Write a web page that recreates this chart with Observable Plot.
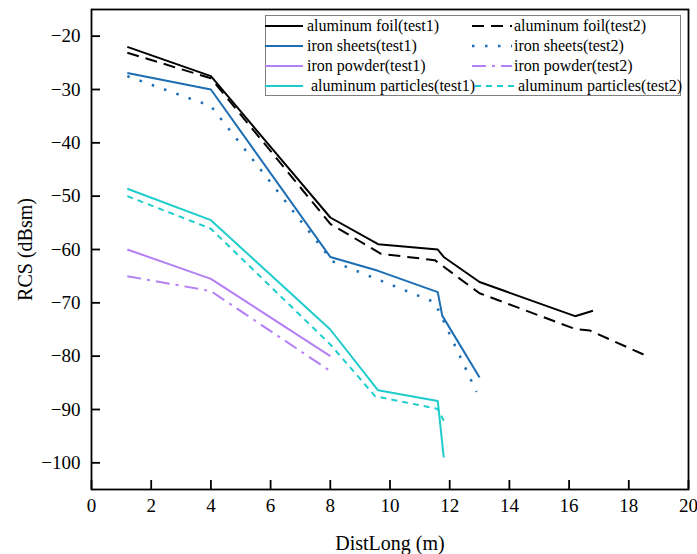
<!DOCTYPE html>
<html><head><meta charset="utf-8">
<script src="https://cdn.jsdelivr.net/npm/d3@7"></script>
<script src="https://cdn.jsdelivr.net/npm/@observablehq/plot@0.6"></script>
<style>
body{margin:0;background:#fff;}
#wrap{position:relative;width:697px;height:554px;font-family:"Liberation Serif","Times New Roman",serif;}
#legend{position:absolute;left:265px;top:15px;width:416px;height:81px;border:1px solid #808080;background:#fff;box-sizing:border-box;}
.item{position:absolute;font-size:16px;line-height:20px;height:20px;white-space:nowrap;color:#000;}
.item svg{position:absolute;top:0;}
.item span{position:absolute;top:0;}
</style></head><body><div id="wrap"></div>
<script>
// ---- data ----
const seriesNames = ["aluminum foil(test1)", "aluminum foil(test2)", "iron sheets(test1)", "iron sheets(test2)",
  "iron powder(test1)", "iron powder(test2)", "aluminum particles(test1)", "aluminum particles(test2)"];

const alFoil1X = [1.2, 4.0, 8.0, 9.6, 11.6, 11.8, 13.0, 16.2, 16.8];
const alFoil1Y = [-22.0, -27.5, -54.0, -59.0, -60.0, -61.4, -66.1, -72.5, -71.5];
const alFoil2X = [1.2, 4.0, 8.0, 9.7, 11.5, 13.0, 16.2, 16.7, 18.5];
const alFoil2Y = [-23.1, -27.9, -55.2, -60.8, -62.0, -68.2, -74.9, -75.2, -79.7];
const ironSheets1X = [1.2, 4.0, 8.0, 9.6, 11.6, 11.75, 13.0];
const ironSheets1Y = [-26.9, -30.0, -61.4, -64.0, -68.0, -72.4, -84.0];
const ironSheets2X = [1.2, 4.0, 8.07, 11.5, 12.9];
const ironSheets2Y = [-27.5, -33.1, -62.2, -69.9, -86.7];
const ironPowder1X = [1.2, 4.0, 8.0];
const ironPowder1Y = [-60.0, -65.5, -80.0];
const ironPowder2X = [1.2, 4.0, 8.0];
const ironPowder2Y = [-65.0, -67.8, -82.8];
const alParticles1X = [1.2, 4.0, 8.0, 9.6, 11.6, 11.8];
const alParticles1Y = [-48.6, -54.5, -75.0, -86.4, -88.4, -99.0];
const alParticles2X = [1.2, 4.0, 8.0, 9.5, 11.6, 11.8];
const alParticles2Y = [-50.0, -56.1, -77.8, -87.5, -89.9, -92.1];

const xTicks = [0, 2, 4, 6, 8, 10, 12, 14, 16, 18, 20];
const yTicks = [-20, -30, -40, -50, -60, -70, -80, -90, -100];
const xLabel = "DistLong (m)";
const yLabel = "RCS (dBsm)";

// ---- styles ----
const BLUE = "#1c6db3", PURPLE = "#b57ff5", CYAN = "#1fcccc";
const styles = [
  {stroke: "#000", dash: null, w: 2},
  {stroke: "#000", dash: "12,7", w: 2},
  {stroke: BLUE, dash: null, w: 2},
  {stroke: BLUE, dash: "2.5,10.5", w: 2.5},
  {stroke: PURPLE, dash: null, w: 2},
  {stroke: PURPLE, dash: "14,6,3,6", w: 2},
  {stroke: CYAN, dash: null, w: 2},
  {stroke: CYAN, dash: "6,5", w: 2}
];
const xs = [alFoil1X, alFoil2X, ironSheets1X, ironSheets2X, ironPowder1X, ironPowder2X, alParticles1X, alParticles2X];
const ys = [alFoil1Y, alFoil2Y, ironSheets1Y, ironSheets2Y, ironPowder1Y, ironPowder2Y, alParticles1Y, alParticles2Y];

const fmt = d => d < 0 ? "\u2212" + Math.abs(d) : String(d);

const lineMarks = xs.map((X, k) => Plot.line(X.map((x, i) => ({x, y: ys[k][i]})), {
  x: "x", y: "y", stroke: styles[k].stroke, strokeWidth: styles[k].w,
  strokeDasharray: styles[k].dash, strokeLinejoin: "miter", strokeLinecap: "butt"
}));

const chart = Plot.plot({
  width: 697, height: 554,
  marginLeft: 91, marginRight: 9, marginTop: 9, marginBottom: 65,
  x: {domain: [0, 20]},
  y: {domain: [-105, -15]},
  style: {fontFamily: "'Liberation Serif','Times New Roman',serif", fontSize: "19px", color: "#000", background: "#fff", overflow: "visible"},
  marks: [
    Plot.axisX({ticks: xTicks, tickSize: 0, tickPadding: 9, tickFormat: fmt, label: null, fontSize: 19}),
    Plot.axisX({ticks: xTicks, tickSize: -9, text: null, label: null, strokeWidth: 1.8}),
    Plot.axisY({ticks: yTicks, tickSize: 0, tickPadding: 11, tickFormat: fmt, label: null, fontSize: 19}),
    Plot.axisY({ticks: yTicks, tickSize: -9, text: null, label: null, strokeWidth: 1.8}),
    ...lineMarks,
    Plot.frame({stroke: "#000", strokeWidth: 1.8}),
    Plot.text([xLabel], {text: d => d, frameAnchor: "bottom", dy: 54, textAnchor: "middle", lineAnchor: "middle", fontSize: 20}),
    Plot.text([yLabel], {text: d => d, frameAnchor: "left", dx: -66, rotate: -90, textAnchor: "middle", lineAnchor: "middle", fontSize: 20})
  ]
});
const wrap = document.getElementById("wrap");
wrap.appendChild(chart);

// ---- legend ----
const lg = document.createElement("div");
lg.id = "legend";
wrap.appendChild(lg);
const rowsTop = [16, 36, 56, 76];
const col = [
  {lineL: 265, lineW: 38, textL: 307},
  {lineL: 472, lineW: 40, textL: 514}
];
seriesNames.forEach((name, k) => {
  const r = Math.floor(k / 2), c = k % 2;
  const it = document.createElement("div");
  it.className = "item";
  it.style.left = "0px";
  it.style.top = rowsTop[r] + "px";
  let lineL = col[c].lineL, textL = col[c].textL;
  if (r === 3 && c === 0) textL = 311;
  if (r === 3 && c === 1) { lineL = 475; textL = 518; }
  const s = styles[k];
  const w = (r === 3 && c === 1) ? 40 : col[c].lineW;
  it.innerHTML = `<svg width="${w}" height="20" style="left:${lineL}px"><line x1="0" x2="${w}" y1="10" y2="10" stroke="${s.stroke}" stroke-width="${s.w}" ${s.dash ? `stroke-dasharray="${s.dash}"` : ""}/></svg><span style="left:${textL}px">${name}</span>`;
  wrap.appendChild(it);
});
</script>
</body></html>
